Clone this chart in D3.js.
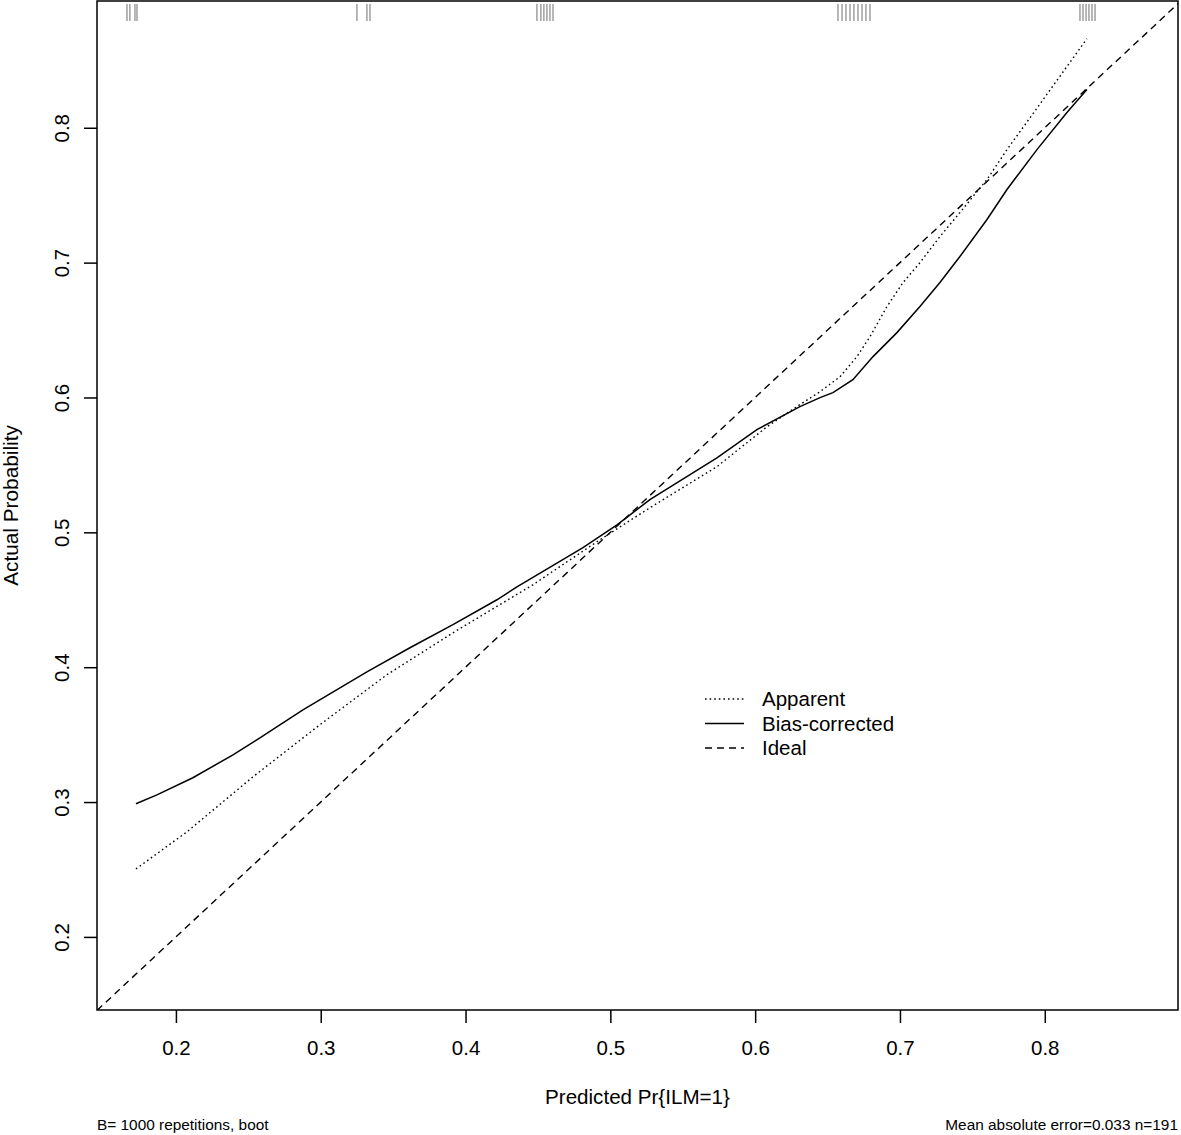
<!DOCTYPE html>
<html>
<head>
<meta charset="utf-8">
<script src="https://cdn.jsdelivr.net/npm/d3@7"></script>
<style>
  html, body { margin: 0; padding: 0; background: #fff; }
  svg { display: block; font-family: "Liberation Sans", Arial, Helvetica, sans-serif; }
</style>
</head>
<body>
<svg id="chart" width="1181" height="1135"></svg>
<script>
// ---- data ----
const xTicks = [0.2, 0.3, 0.4, 0.5, 0.6, 0.7, 0.8];
const yTicks = [0.2, 0.3, 0.4, 0.5, 0.6, 0.7, 0.8];

const apparentX = [0.1724, 0.2076, 0.2532, 0.2994, 0.3457, 0.3913, 0.4465, 0.4928, 0.5273, 0.5736, 0.6081, 0.6309, 0.6448, 0.6586, 0.6703, 0.6793, 0.6910, 0.7021, 0.7138, 0.7276, 0.7414, 0.7504, 0.7601, 0.7739, 0.7919, 0.8291];
const apparentY = [0.2504, 0.2779, 0.3187, 0.3573, 0.3944, 0.4255, 0.4611, 0.4945, 0.5182, 0.5487, 0.5783, 0.5947, 0.6043, 0.6154, 0.6303, 0.6451, 0.6674, 0.6852, 0.7000, 0.7193, 0.7371, 0.7490, 0.7616, 0.7838, 0.8105, 0.8660];

const biasX = [0.1724, 0.1869, 0.2117, 0.2394, 0.2580, 0.2877, 0.3319, 0.3616, 0.3913, 0.4217, 0.4355, 0.4811, 0.5046, 0.5273, 0.5736, 0.6012, 0.6309, 0.6448, 0.6537, 0.6675, 0.6814, 0.6979, 0.7138, 0.7276, 0.7414, 0.7601, 0.7739, 0.7946, 0.8153, 0.8291];
const biasY = [0.2987, 0.3053, 0.3180, 0.3350, 0.3476, 0.3684, 0.3966, 0.4144, 0.4315, 0.4500, 0.4596, 0.4886, 0.5056, 0.5242, 0.5553, 0.5761, 0.5932, 0.5999, 0.6036, 0.6132, 0.6303, 0.6481, 0.6674, 0.6852, 0.7045, 0.7320, 0.7542, 0.7838, 0.8113, 0.8283];

const rugX = [0.1662, 0.1682, 0.1717, 0.1731,
              0.3250, 0.3319, 0.3340,
              0.4493, 0.4520, 0.4541, 0.4562, 0.4583, 0.4604,
              0.6572, 0.6600, 0.6627, 0.6655, 0.6682, 0.6710, 0.6738, 0.6765, 0.6793,
              0.8243, 0.8264, 0.8285, 0.8305, 0.8326, 0.8347];

const legendLabels = ["Apparent", "Bias-corrected", "Ideal"];
const xTitle = "Predicted Pr{ILM=1}";
const yTitle = "Actual Probability";
const noteLeft = "B= 1000 repetitions, boot";
const noteRight = "Mean absolute error=0.033 n=191";

const xDomain = [0.1455, 0.892];
const yDomain = [0.1458, 0.894];

// ---- layout ----
const L = 97, R = 1178, T = 1, B = 1010;
const svg = d3.select("#chart");
const x = d3.scaleLinear().domain(xDomain).range([L, R]);
const y = d3.scaleLinear().domain(yDomain).range([B, T]);

svg.append("defs").append("clipPath").attr("id", "clip")
  .append("rect").attr("x", L).attr("y", T).attr("width", R - L).attr("height", B - T);

// rug
svg.append("g").selectAll("line").data(rugX).join("line")
  .attr("x1", d => x(d)).attr("x2", d => x(d))
  .attr("y1", 4).attr("y2", 21)
  .attr("stroke", "#444").attr("stroke-opacity", 0.55).attr("stroke-width", 1.4);

// ideal
svg.append("line")
  .attr("clip-path", "url(#clip)")
  .attr("x1", x(0)).attr("y1", y(0)).attr("x2", x(1)).attr("y2", y(1))
  .attr("stroke", "#000").attr("stroke-width", 1.4).attr("stroke-dasharray", "7,5");

const line = d3.line().x(d => x(d[0])).y(d => y(d[1]));

svg.append("path")
  .datum(apparentX.map((v, i) => [v, apparentY[i]]))
  .attr("d", line).attr("fill", "none")
  .attr("stroke", "#000").attr("stroke-width", 1.4).attr("stroke-dasharray", "1.6,3");

svg.append("path")
  .datum(biasX.map((v, i) => [v, biasY[i]]))
  .attr("d", line).attr("fill", "none")
  .attr("stroke", "#000").attr("stroke-width", 1.5);

// frame
svg.append("rect").attr("x", L).attr("y", T).attr("width", R - L).attr("height", B - T)
  .attr("fill", "none").attr("stroke", "#000").attr("stroke-width", 1.5);

// axes
const xAxis = svg.append("g").attr("transform", `translate(0,${B})`)
  .call(d3.axisBottom(x).tickValues(xTicks).tickFormat(d3.format(".1f")).tickSize(13).tickPadding(17));
xAxis.select(".domain").remove();
xAxis.selectAll("line").attr("stroke-width", 1.5);
xAxis.selectAll("text").attr("font-size", 20.5).attr("font-family", "Liberation Sans, Arial, sans-serif");

const yAxis = svg.append("g").attr("transform", `translate(${L},0)`)
  .call(d3.axisLeft(y).tickValues(yTicks).tickFormat(d3.format(".1f")).tickSize(13));
yAxis.select(".domain").remove();
yAxis.selectAll("line").attr("stroke-width", 1.5);
yAxis.selectAll("text")
  .attr("font-size", 20.5).attr("font-family", "Liberation Sans, Arial, sans-serif")
  .attr("x", null).attr("dy", null)
  .attr("text-anchor", "middle")
  .attr("transform", "translate(-28,0) rotate(-90)")
  .attr("y", 0);

// titles
svg.append("text").attr("x", (L + R) / 2 + 0).attr("y", 1104)
  .attr("text-anchor", "middle").attr("font-size", 20.6).text(xTitle);
svg.append("text").attr("transform", `translate(18,${(T + B) / 2}) rotate(-90)`)
  .attr("text-anchor", "middle").attr("font-size", 20.8).text(yTitle);

svg.append("text").attr("x", L).attr("y", 1130).attr("font-size", 15.4).text(noteLeft);
svg.append("text").attr("x", 1178).attr("y", 1130).attr("text-anchor", "end").attr("font-size", 15.4).text(noteRight);

// legend
const styles = [
  { dash: "1.6,3", w: 1.4 },
  { dash: null, w: 1.5 },
  { dash: "7,5", w: 1.4 }
];
const lg = svg.append("g");
legendLabels.forEach((lab, i) => {
  const yy = 699 + i * 24.5;
  lg.append("line").attr("x1", 705).attr("x2", 744).attr("y1", yy).attr("y2", yy)
    .attr("stroke", "#000").attr("stroke-width", styles[i].w)
    .attr("stroke-dasharray", styles[i].dash);
  lg.append("text").attr("x", 762).attr("y", yy).attr("dy", "0.35em")
    .attr("font-size", 20.5).text(lab);
});
</script>
</body>
</html>
